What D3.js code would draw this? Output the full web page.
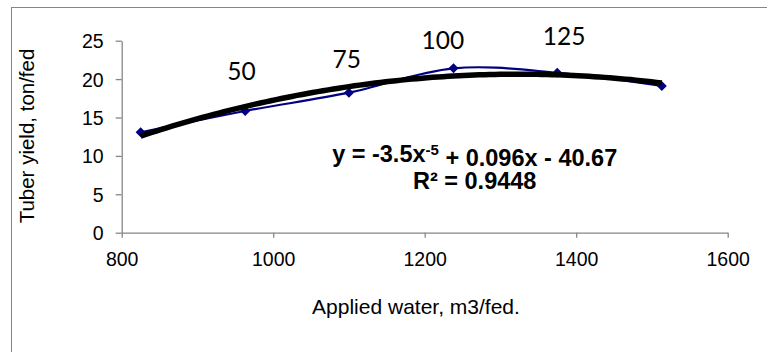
<!DOCTYPE html>
<html>
<head>
<meta charset="utf-8">
<script src="https://cdn.jsdelivr.net/npm/d3@7"></script>
<style>
  html, body { margin: 0; padding: 0; background: #fff; }
  svg { display: block; }
</style>
</head>
<body>
<svg id="chart" width="767" height="352"></svg>
<script>
// ---- data ----
const appliedWater = [825, 963, 1100, 1238, 1375, 1513];
const tuberYield   = [13.07, 15.85, 18.23, 21.4, 20.83, 19.1];
const pointLabels  = ["", "50", "75", "100", "125", ""];
const xTicks = [800, 1000, 1200, 1400, 1600];
const yTicks = [0, 5, 10, 15, 20, 25];
const equationText = ["y = -3.5x", "-5", " + 0.096x - 40.67"];
const r2Text = "R² = 0.9448";
// annotation anchors (data units) for the manually placed labels
const labelAnchorX = [null, 958, 1097, 1224, 1384, null];
const labelAnchorY = [null, 19.88, 21.4, 23.88, 24.44, null];

// ---- layout ----
const svg = d3.select("#chart");
const x = d3.scaleLinear().domain([800, 1600]).range([121.7, 727.7]);
const y = d3.scaleLinear().domain([0, 25]).range([232.7, 40.7]);
const axisColor = "#868686";
const sans = "'Liberation Sans', Arial, sans-serif";

// outer chart-area border
svg.append("rect")
  .attr("x", 11.5).attr("y", 7.5).attr("width", 800).attr("height", 400)
  .attr("fill", "none").attr("stroke", axisColor).attr("stroke-width", 1);

// axes
const gx = svg.append("g").attr("transform", `translate(0,${y(0)})`)
  .call(d3.axisBottom(x).tickValues(xTicks).tickFormat(d3.format("d"))
    .tickSize(5).tickSizeOuter(0).tickPadding(14));
const gy = svg.append("g").attr("transform", `translate(${x(800)},0)`)
  .call(d3.axisLeft(y).tickValues(yTicks).tickFormat(d3.format("d"))
    .tickSize(6).tickSizeOuter(0).tickPadding(12));
[gx, gy].forEach(g => {
  g.selectAll("path.domain").attr("stroke", axisColor).attr("stroke-width", 1.3);
  g.selectAll(".tick line").attr("stroke", axisColor).attr("stroke-width", 1.3);
  g.selectAll(".tick text").attr("fill", "#000").style("font-family", sans).style("font-size", "19.5px");
});
gx.selectAll(".tick text").attr("dy", "0.71em");
gy.selectAll(".tick text").attr("dy", "0.36em");

// axis titles
svg.append("text")
  .attr("x", 416).attr("y", 314)
  .attr("text-anchor", "middle")
  .style("font-family", sans).style("font-size", "21px")
  .text("Applied water, m3/fed.");
svg.append("text")
  .attr("transform", "translate(34,136) rotate(-90)")
  .attr("text-anchor", "middle")
  .style("font-family", sans).style("font-size", "20.5px")
  .text("Tuber yield, ton/fed");

// quadratic least-squares trendline computed from the data
function polyFit2(xs, ys) {
  const n = xs.length;
  const m = d3.mean(xs);
  let S = [[0,0,0],[0,0,0],[0,0,0]], B = [0,0,0];
  for (let i = 0; i < n; i++) {
    const u = xs[i] - m, p = [1, u, u*u];
    for (let a = 0; a < 3; a++) { B[a] += p[a]*ys[i]; for (let b = 0; b < 3; b++) S[a][b] += p[a]*p[b]; }
  }
  for (let c = 0; c < 3; c++) {
    for (let r = c+1; r < 3; r++) {
      const f = S[r][c]/S[c][c];
      for (let k = c; k < 3; k++) S[r][k] -= f*S[c][k];
      B[r] -= f*B[c];
    }
  }
  const coef = [0,0,0];
  for (let r = 2; r >= 0; r--) {
    let s = B[r];
    for (let k = r+1; k < 3; k++) s -= S[r][k]*coef[k];
    coef[r] = s/S[r][r];
  }
  return xv => { const u = xv - m; return coef[0] + coef[1]*u + coef[2]*u*u; };
}
const fit = polyFit2(appliedWater, tuberYield);
const xMin = d3.min(appliedWater), xMax = d3.max(appliedWater);
const trendPts = d3.range(0, 101).map(i => xMin + (xMax - xMin) * i / 100);

// data series (smoothed line)
const pts = appliedWater.map((d, i) => [d, tuberYield[i]]);
svg.append("path")
  .datum(pts)
  .attr("fill", "none").attr("stroke", "#000080").attr("stroke-width", 2.2)
  .attr("d", d3.line().x(d => x(d[0])).y(d => y(d[1])).curve(d3.curveCatmullRom.alpha(0.5)));

// markers
svg.append("g").selectAll("path")
  .data(pts).join("path")
  .attr("transform", d => `translate(${x(d[0])},${y(d[1])})`)
  .attr("d", "M0,-5L5,0L0,5L-5,0Z")
  .attr("fill", "#000080");

// trendline on top
svg.append("path")
  .datum(trendPts)
  .attr("fill", "none").attr("stroke", "#000").attr("stroke-width", 5.5)
  .attr("stroke-linecap", "butt")
  .attr("d", d3.line().x(d => x(d)).y(d => y(fit(d))));

// point labels
svg.append("g").selectAll("text")
  .data(pointLabels.map((t, i) => ({t, i})).filter(d => d.t))
  .join("text")
  .attr("x", d => x(labelAnchorX[d.i]))
  .attr("y", d => y(labelAnchorY[d.i]))
  .attr("text-anchor", "middle")
  .style("font-family", "Lato, 'Open Sans', sans-serif")
  .style("font-size", "24.5px")
  .text(d => d.t);

// equation
const eq = svg.append("text")
  .attr("x", x(1266)).attr("y", y(9.2))
  .attr("text-anchor", "middle")
  .style("font-family", sans).style("font-weight", "bold").style("font-size", "23.5px");
eq.append("tspan").text(equationText[0]);
eq.append("tspan").attr("dy", "-0.45em").style("font-size", "15px").text(equationText[1]);
eq.append("tspan").attr("dy", "0.45em").text(equationText[2]);
svg.append("text")
  .attr("x", x(1266)).attr("y", y(5.7))
  .attr("text-anchor", "middle")
  .style("font-family", sans).style("font-weight", "bold").style("font-size", "23.5px")
  .text(r2Text);
</script>
</body>
</html>
